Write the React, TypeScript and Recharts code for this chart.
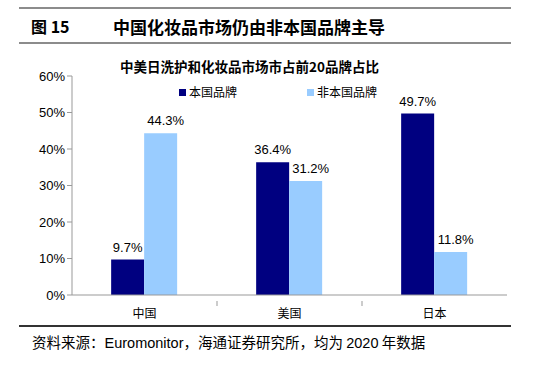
import { BarChart, Bar, XAxis, YAxis, LabelList } from 'recharts';

const countries = ['中国', '美国', '日本'];
const domestic = [9.7, 36.4, 49.7];
const foreign = [44.3, 31.2, 11.8];
const yTicks = [0, 10, 20, 30, 40, 50, 60];

const DARK = '#000080';
const LIGHT = '#99CCFF';
const NUM_FONT = '"Liberation Sans", Arial, sans-serif';
const CJK_FONT = '"Noto Sans CJK SC", sans-serif';

const data = countries.map((name, i) => ({ name, domestic: domestic[i], foreign: foreign[i] }));

// category label plus a separator tick at the right edge of each band
const CategoryTick = (props: any) => {
  const { x, y, payload, index } = props;
  const half = 72.5;
  return (
    <g>
      {index < countries.length - 1 && (
        <line x1={x + half} x2={x + half} y1={y - 2} y2={y + 3} stroke="#999" />
      )}
      <text x={x} y={y + 15} textAnchor="middle" fontSize={12} fontFamily={CJK_FONT} fill="#000">
        {payload.value}
      </text>
    </g>
  );
};

const rule = (top: number, h: number, color: string) => (
  <div style={{ position: 'absolute', left: 19, width: 492, top, height: h, background: color }} />
);

const legendItem = (left: number, color: string, label: string) => (
  <div style={{ position: 'absolute', left, top: 84, display: 'flex', alignItems: 'center', fontFamily: CJK_FONT, fontSize: 12, color: '#000', lineHeight: '16px' }}>
    <span style={{ width: 7, height: 7, background: color, marginRight: 3 }} />
    {label}
  </div>
);

export default function App() {
  return (
    <div style={{ position: 'fixed', left: 0, top: 0, width: 542, height: 365, background: '#fff' }}>
      {rule(7, 2, '#8c8c8c')}
      <div style={{ position: 'absolute', left: 31, top: 14, fontFamily: CJK_FONT, fontWeight: 700, fontSize: 16, color: '#000' }}>
        图 15
      </div>
      <div style={{ position: 'absolute', left: 113, top: 14, fontFamily: CJK_FONT, fontWeight: 700, fontSize: 17, color: '#000' }}>
        中国化妆品市场仍由非本国品牌主导
      </div>
      {rule(42, 2, '#8c8c8c')}
      <div style={{ position: 'absolute', left: 120, top: 56, fontFamily: CJK_FONT, fontWeight: 700, fontSize: 13.5, color: '#000' }}>
        中美日洗护和化妆品市场市占前20品牌占比
      </div>
      <div style={{ position: 'absolute', left: 0, top: 0 }}>
        <BarChart width={542} height={365} data={data} margin={{ top: 76, right: 35, left: 0, bottom: 40 }} barCategoryGap="27%" barGap={0}>
          <XAxis dataKey="name" axisLine={{ stroke: '#999' }} tickLine={false} tick={<CategoryTick />} height={30} interval={0} />
          <YAxis
            domain={[0, 60]}
            ticks={yTicks}
            width={72}
            axisLine={{ stroke: '#999' }}
            tickLine={{ stroke: '#999' }}
            tickSize={5}
            tickFormatter={(v: number) => `${v}%`}
            tick={{ fontSize: 13, fontFamily: NUM_FONT, fill: '#000' }}
          />
          <Bar dataKey="domestic" fill={DARK} isAnimationActive={false}>
            <LabelList dataKey="domestic" position="top" offset={8} formatter={(v: any) => `${v}%`} style={{ fontSize: 13, fontFamily: NUM_FONT, fill: '#000' }} />
          </Bar>
          <Bar dataKey="foreign" fill={LIGHT} isAnimationActive={false}>
            <LabelList dataKey="foreign" position="top" offset={8} dx={5} formatter={(v: any) => `${v}%`} style={{ fontSize: 13, fontFamily: NUM_FONT, fill: '#000' }} />
          </Bar>
        </BarChart>
      </div>
      {legendItem(179, DARK, '本国品牌')}
      {legendItem(307, LIGHT, '非本国品牌')}
      {rule(325, 2, '#333')}
      <div style={{ position: 'absolute', left: 32, top: 331, fontSize: 14.5, color: '#000', fontFamily: CJK_FONT }}>
        资料来源：<span style={{ fontFamily: NUM_FONT }}>Euromonitor</span>，海通证券研究所，均为 <span style={{ fontFamily: NUM_FONT }}>2020</span> 年数据
      </div>
    </div>
  );
}
